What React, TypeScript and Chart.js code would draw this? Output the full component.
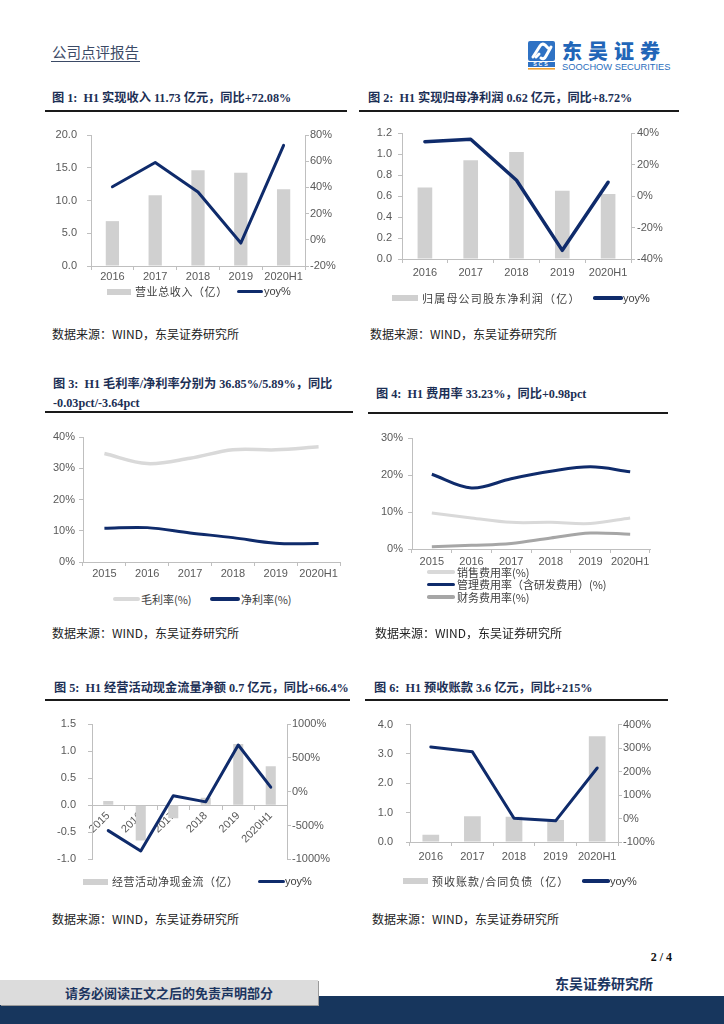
import React, { useEffect, useRef } from 'react';
import { Chart, registerables } from 'chart.js';

Chart.register(...registerables);

// ---------------- DATA ----------------
const c1Years = ['2016', '2017', '2018', '2019', '2020H1'];
const c1Revenue = [6.85, 10.8, 14.6, 14.25, 11.73];
const c1Yoy = [40.5, 59, 36.5, -2.5, 72.08];
const c1LeftTicks = ['0.0', '5.0', '10.0', '15.0', '20.0'];
const c1RightTicks = ['-20%', '0%', '20%', '40%', '60%', '80%'];

const c2Years = ['2016', '2017', '2018', '2019', '2020H1'];
const c2Profit = [0.68, 0.94, 1.02, 0.65, 0.62];
const c2Yoy = [34.5, 36, 10, -34.5, 8.72];
const c2LeftTicks = ['0.0', '0.2', '0.4', '0.6', '0.8', '1.0', '1.2'];
const c2RightTicks = ['-40%', '-20%', '0%', '20%', '40%'];

const c3Years = ['2015', '2016', '2017', '2018', '2019', '2020H1'];
const c3Gross = [34.7, 31.5, 33.2, 35.9, 35.9, 36.85];
const c3Net = [10.8, 11.0, 9.3, 7.8, 6.0, 5.89];
const c3Ticks = ['0%', '10%', '20%', '30%', '40%'];

const c4Years = ['2015', '2016', '2017', '2018', '2019', '2020H1'];
const c4Sales = [9.7, 8.4, 7.2, 7.2, 6.9, 8.4];
const c4Admin = [20.2, 16.5, 19.0, 21.0, 22.2, 20.9];
const c4Finance = [0.6, 1.0, 1.5, 3.0, 4.3, 4.0];
const c4Ticks = ['0%', '10%', '20%', '30%'];

const c5Years = ['2015', '2016', '2017', '2018', '2019', '2020H1'];
const c5Cash = [0.08, -0.65, -0.24, 0.14, 1.13, 0.72];
const c5Yoy = [-575, -875, -60, -150, 690, 66.4];
const c5LeftTicks = ['-1.0', '-0.5', '0.0', '0.5', '1.0', '1.5'];
const c5RightTicks = ['-1000%', '-500%', '0%', '500%', '1000%'];

const c6Years = ['2016', '2017', '2018', '2019', '2020H1'];
const c6Advance = [0.25, 0.88, 0.86, 0.75, 3.6];
const c6Yoy = [305, 284, 1, -10, 215];
const c6LeftTicks = ['0.0', '1.0', '2.0', '3.0', '4.0'];
const c6RightTicks = ['-100%', '0%', '100%', '200%', '300%', '400%'];

const L1Bar = '营业总收入（亿）';
const L2Bar = '归属母公司股东净利润（亿）';
const L3Gross = '毛利率(%)';
const L3Net = '净利率(%)';
const L4Sales = '销售费用率(%)';
const L4Admin = '管理费用率（含研发费用）(%)';
const L4Fin = '财务费用率(%)';
const L5Bar = '经营活动净现金流（亿）';
const L6Bar = '预收账款/合同负债（亿）';
const LYoy = 'yoy%';

// ---------------- STYLE ----------------
const NAVY = '#0f2b6b';
const BAR = '#d0d0d0';
const LIGHT = '#d9d9d9';
const MID = '#a6a6a6';
const AXIS = '#bfbfbf';
const TICK_COLOR = '#595959';
const TITLE_COLOR = '#1c2f55';
const tickFont = { family: '"Liberation Sans", Arial, sans-serif', size: 11 };
const CJK = '"Noto Sans CJK SC", "Noto Sans", sans-serif';
const SERIF_CJK = '"Liberation Serif", "Noto Sans CJK SC", serif';

const fixW = (w: number) => (s: any) => {
  s.width = w;
};
const fixH = (h: number) => (s: any) => {
  s.height = h;
};

function yScale(opts: {
  pos: 'left' | 'right';
  min: number;
  max: number;
  step: number;
  labels: string[];
  width: number;
  pad: number;
}) {
  return {
    position: opts.pos,
    min: opts.min,
    max: opts.max,
    afterFit: fixW(opts.width),
    grid: { display: true, drawOnChartArea: false, drawTicks: true, tickLength: 4, color: AXIS },
    border: { display: true, color: AXIS },
    ticks: {
      stepSize: opts.step,
      padding: opts.pad,
      color: TICK_COLOR,
      font: tickFont,
      callback: (_v: any, i: number) => opts.labels[i],
    },
  };
}

function xScale(height: number, pad: number) {
  return {
    offset: true,
    afterFit: fixH(height),
    grid: { display: true, offset: true, drawOnChartArea: false, drawTicks: true, tickLength: 4, color: AXIS },
    border: { display: true, color: AXIS },
    ticks: { padding: pad, color: TICK_COLOR, font: tickFont, maxRotation: 0, autoSkip: false },
  };
}

const baseOpts = (padding: any) => ({
  animation: false,
  responsive: false,
  devicePixelRatio: 1,
  layout: { padding },
  plugins: { legend: { display: false }, tooltip: { enabled: false } },
});

// ---------------- CHART CONFIGS ----------------
const cfg1 = () => ({
  type: 'bar',
  data: {
    labels: c1Years,
    datasets: [
      { type: 'line', label: LYoy, data: c1Yoy, borderColor: NAVY, borderWidth: 3, pointRadius: 0, yAxisID: 'y1', order: 0, tension: 0, borderJoinStyle: 'round', borderCapStyle: 'round' },
      { type: 'bar', label: L1Bar, data: c1Revenue, backgroundColor: BAR, yAxisID: 'y', order: 1, categoryPercentage: 0.5, barPercentage: 0.62 },
    ],
  },
  options: {
    ...baseOpts({ top: 17, left: 0, right: 0, bottom: 0 }),
    scales: {
      x: xScale(24, 0),
      y: yScale({ pos: 'left', min: 0, max: 20, step: 5, labels: c1LeftTicks, width: 51, pad: 10 }),
      y1: yScale({ pos: 'right', min: -20, max: 80, step: 20, labels: c1RightTicks, width: 45, pad: 1 }),
    },
  },
});

const cfg2 = () => ({
  type: 'bar',
  data: {
    labels: c2Years,
    datasets: [
      { type: 'line', label: LYoy, data: c2Yoy, borderColor: NAVY, borderWidth: 3.5, pointRadius: 0, yAxisID: 'y1', order: 0, tension: 0, borderJoinStyle: 'round', borderCapStyle: 'round' },
      { type: 'bar', label: L2Bar, data: c2Profit, backgroundColor: BAR, yAxisID: 'y', order: 1, categoryPercentage: 0.5, barPercentage: 0.64 },
    ],
  },
  options: {
    ...baseOpts({ top: 18, left: 0, right: 0, bottom: 0 }),
    scales: {
      x: xScale(28, 3),
      y: yScale({ pos: 'left', min: 0, max: 1.2, step: 0.2, labels: c2LeftTicks, width: 44, pad: 6 }),
      y1: yScale({ pos: 'right', min: -40, max: 40, step: 20, labels: c2RightTicks, width: 59, pad: 2 }),
    },
  },
});

const cfg3 = () => ({
  type: 'line',
  data: {
    labels: c3Years,
    datasets: [
      { label: L3Net, data: c3Net, borderColor: NAVY, borderWidth: 3, pointRadius: 0, tension: 0.35, order: 0 },
      { label: L3Gross, data: c3Gross, borderColor: LIGHT, borderWidth: 3.5, pointRadius: 0, tension: 0.35, order: 1 },
    ],
  },
  options: {
    ...baseOpts({ top: 17, left: 0, right: 10, bottom: 0 }),
    scales: {
      x: xScale(23, 1),
      y: yScale({ pos: 'left', min: 0, max: 40, step: 10, labels: c3Ticks, width: 43, pad: 4 }),
    },
  },
});

const cfg4 = () => ({
  type: 'line',
  data: {
    labels: c4Years,
    datasets: [
      { label: L4Admin, data: c4Admin, borderColor: NAVY, borderWidth: 3, pointRadius: 0, tension: 0.35, order: 0 },
      { label: L4Sales, data: c4Sales, borderColor: LIGHT, borderWidth: 3, pointRadius: 0, tension: 0.35, order: 1 },
      { label: L4Fin, data: c4Finance, borderColor: MID, borderWidth: 3, pointRadius: 0, tension: 0.35, order: 2 },
    ],
  },
  options: {
    ...baseOpts({ top: 18, left: 0, right: 20, bottom: 0 }),
    scales: {
      x: xScale(21, 2),
      y: yScale({ pos: 'left', min: 0, max: 30, step: 10, labels: c4Ticks, width: 52, pad: 5 }),
    },
  },
});

const cfg5 = () => ({
  type: 'bar',
  data: {
    labels: c5Years,
    datasets: [
      { type: 'line', label: LYoy, data: c5Yoy, borderColor: NAVY, borderWidth: 3, pointRadius: 0, yAxisID: 'y1', order: 0, tension: 0, borderJoinStyle: 'round', borderCapStyle: 'round' },
      { type: 'bar', label: L5Bar, data: c5Cash, backgroundColor: BAR, yAxisID: 'y', order: 1, categoryPercentage: 0.5, barPercentage: 0.62 },
    ],
  },
  options: {
    ...baseOpts({ top: 19, left: 0, right: 0, bottom: 7 }),
    scales: {
      x: {
        position: { y: 0 },
        offset: true,
        grid: { display: true, offset: true, drawOnChartArea: false, drawTicks: true, tickLength: 4, color: AXIS },
        border: { display: true, color: AXIS },
        ticks: { padding: 0, color: TICK_COLOR, font: tickFont, minRotation: 45, maxRotation: 45, autoSkip: false },
      },
      y: yScale({ pos: 'left', min: -1, max: 1.5, step: 0.5, labels: c5LeftTicks, width: 52, pad: 12 }),
      y1: yScale({ pos: 'right', min: -1000, max: 1000, step: 500, labels: c5RightTicks, width: 63, pad: 1 }),
    },
  },
});

const cfg6 = () => ({
  type: 'bar',
  data: {
    labels: c6Years,
    datasets: [
      { type: 'line', label: LYoy, data: c6Yoy, borderColor: NAVY, borderWidth: 3, pointRadius: 0, yAxisID: 'y1', order: 0, tension: 0, borderJoinStyle: 'round', borderCapStyle: 'round' },
      { type: 'bar', label: L6Bar, data: c6Advance, backgroundColor: BAR, yAxisID: 'y', order: 1, categoryPercentage: 0.6, barPercentage: 0.67 },
    ],
  },
  options: {
    ...baseOpts({ top: 19, left: 0, right: 0, bottom: 0 }),
    scales: {
      x: xScale(26, 4),
      y: yScale({ pos: 'left', min: 0, max: 4, step: 1, labels: c6LeftTicks, width: 50, pad: 13 }),
      y1: yScale({ pos: 'right', min: -100, max: 400, step: 100, labels: c6RightTicks, width: 52, pad: 1 }),
    },
  },
});

// ---------------- COMPONENTS ----------------
function ChartCanvas({ x, y, w, h, make }: { x: number; y: number; w: number; h: number; make: () => any }) {
  const ref = useRef<HTMLCanvasElement>(null);
  useEffect(() => {
    const chart = new Chart(ref.current as HTMLCanvasElement, make());
    return () => chart.destroy();
  }, []);
  return (
    <canvas
      ref={ref}
      width={w}
      height={h}
      style={{ position: 'absolute', left: x, top: y, width: w, height: h }}
    />
  );
}

function T({
  x,
  y,
  size,
  children,
  color = '#222',
  weight = 400,
  family = CJK,
  right,
  spacing = 0,
}: {
  x?: number;
  y: number;
  size: number;
  children: any;
  color?: string;
  weight?: number;
  family?: string;
  right?: number;
  spacing?: number;
}) {
  const lh = Math.round(size * 1.4);
  const style: any = {
    position: 'absolute',
    top: y - lh / 2,
    fontSize: size,
    lineHeight: lh + 'px',
    whiteSpace: 'nowrap',
    color,
    fontWeight: weight,
    fontFamily: family,
    letterSpacing: spacing,
  };
  if (right !== undefined) style.right = 724 - right;
  else style.left = x;
  return <div style={style}>{children}</div>;
}

function Rule({ x1, x2, y }: { x1: number; x2: number; y: number }) {
  return <div style={{ position: 'absolute', left: x1, top: y, width: x2 - x1, height: 2, background: '#1a1a1a' }} />;
}

function Swatch({ x, y, w, h, color }: { x: number; y: number; w: number; h: number; color: string }) {
  return <div style={{ position: 'absolute', left: x, top: y - h / 2, width: w, height: h, background: color, borderRadius: h <= 4 ? h / 2 : 0 }} />;
}

function LegendText({ x, y, children, latin, spacing = 0 }: { x: number; y: number; children: any; latin?: boolean; spacing?: number }) {
  return (
    <T x={x} y={y} size={11} color="#404040" spacing={spacing} family={latin ? '"Liberation Sans", Arial, sans-serif' : CJK}>
      {children}
    </T>
  );
}

function Title({ x, y, children }: { x: number; y: number; children: any }) {
  return (
    <T x={x} y={y} size={12.2} weight={700} color={TITLE_COLOR} family={SERIF_CJK}>
      {children}
    </T>
  );
}

const SOURCE = '数据来源：WIND，东吴证券研究所';

function Logo() {
  return (
    <>
      <svg style={{ position: 'absolute', left: 528, top: 41 }} width={28} height={30} viewBox="0 0 28 30">
        <rect x={0} y={0} width={27} height={20} rx={2} fill="#2f72c4" />
        <path d="M5 16 L12 5 Q14 2 17 4 L20 7" stroke="#fff" strokeWidth={3} fill="none" strokeLinecap="round" />
        <path d="M8 16 L11 13 M13 17 Q16 19 18 15 L23 6" stroke="#fff" strokeWidth={3} fill="none" strokeLinecap="round" />
        <rect x={0} y={21} width={27} height={5} fill="#2f72c4" />
        <text x={13.5} y={25.3} fontSize={5.2} fill="#fff" textAnchor="middle" fontFamily="Liberation Sans" fontWeight={700} letterSpacing={2}>
          SCS
        </text>
        <rect x={0} y={27} width={27} height={1.6} fill="#f0a030" />
      </svg>
      <div
        style={{
          position: 'absolute',
          left: 562,
          top: 38,
          fontSize: 20,
          lineHeight: '26px',
          letterSpacing: 6,
          fontWeight: 900,
          color: '#2266b8',
          fontFamily: CJK,
          whiteSpace: 'nowrap',
        }}
      >
        东吴证券
      </div>
      <div
        style={{
          position: 'absolute',
          left: 562,
          top: 61,
          fontSize: 9.3,
          lineHeight: '12px',
          color: '#2a6ebd',
          fontFamily: '"Liberation Sans", Arial, sans-serif',
          whiteSpace: 'nowrap',
        }}
      >
        SOOCHOW SECURITIES
      </div>
    </>
  );
}

export default function App() {
  return (
    <div
      style={{
        position: 'absolute',
        left: 0,
        top: 0,
        width: 724,
        height: 1024,
        overflow: 'hidden',
        background: '#fff',
      }}
    >
      {/* header */}
      <T x={52} y={52} size={14.5} color="#3b4a66" family={CJK}>
        公司点评报告
      </T>
      <div style={{ position: 'absolute', left: 51, top: 61, width: 89, height: 1, background: '#3b4a66' }} />
      <Logo />

      {/* row 1 */}
      <Title x={52} y={98}>图 1:&nbsp; H1 实现收入 11.73 亿元，同比+72.08%</Title>
      <Rule x1={45} x2={347} y={110} />
      <Title x={368} y={98}>图 2:&nbsp; H1 实现归母净利润 0.62 亿元，同比+8.72%</Title>
      <Rule x1={359} x2={679} y={110} />

      <ChartCanvas x={40} y={118} w={310} h={172} make={cfg1} />
      <Swatch x={107} y={291.5} w={24} h={6} color={BAR} />
      <LegendText x={135} y={291.5} spacing={0.6}>{L1Bar}</LegendText>
      <Swatch x={237} y={291.5} w={26} h={3} color={NAVY} />
      <LegendText x={264} y={291.5} latin>{LYoy}</LegendText>

      <ChartCanvas x={358} y={115} w={332} h={172} make={cfg2} />
      <Swatch x={392} y={298} w={26} h={6} color={BAR} />
      <LegendText x={422} y={298} spacing={1.2}>{L2Bar}</LegendText>
      <Swatch x={593} y={298} w={30} h={3.5} color={NAVY} />
      <LegendText x={623} y={298} latin>{LYoy}</LegendText>

      <T x={52} y={333} size={12} color="#222">{SOURCE}</T>
      <T x={370} y={333} size={12} color="#222">{SOURCE}</T>

      {/* row 2 */}
      <Title x={53} y={384}>图 3:&nbsp; H1 毛利率/净利率分别为 36.85%/5.89%，同比</Title>
      <Title x={53} y={403}>-0.03pct/-3.64pct</Title>
      <Rule x1={45} x2={353} y={411} />
      <Title x={376} y={394}>图 4:&nbsp; H1 费用率 33.23%，同比+0.98pct</Title>
      <Rule x1={368} x2={668} y={412} />

      <ChartCanvas x={40} y={420} w={310} h={165} make={cfg3} />
      <Swatch x={113} y={599} w={27} h={4} color={LIGHT} />
      <LegendText x={141} y={599}>{L3Gross}</LegendText>
      <Swatch x={210} y={599} w={30} h={4} color={NAVY} />
      <LegendText x={241} y={599}>{L3Net}</LegendText>

      <ChartCanvas x={360} y={420} w={310} h={150} make={cfg4} />
      <Swatch x={427} y={572} w={28} h={3.5} color={LIGHT} />
      <LegendText x={457} y={572}>{L4Sales}</LegendText>
      <Swatch x={427} y={584.5} w={28} h={3.5} color={NAVY} />
      <LegendText x={457} y={584.5}>{L4Admin}</LegendText>
      <Swatch x={427} y={597} w={28} h={3.5} color={MID} />
      <LegendText x={457} y={597}>{L4Fin}</LegendText>

      <T x={52} y={632} size={12} color="#222">{SOURCE}</T>
      <T x={375} y={632} size={12} color="#222">{SOURCE}</T>

      {/* row 3 */}
      <Title x={54} y={688}>图 5:&nbsp; H1 经营活动现金流量净额 0.7 亿元，同比+66.4%</Title>
      <Rule x1={45} x2={350} y={699} />
      <Title x={374} y={688}>图 6:&nbsp; H1 预收账款 3.6 亿元，同比+215%</Title>
      <Rule x1={365} x2={668} y={699} />

      <ChartCanvas x={40} y={705} w={310} h={173} make={cfg5} />
      <Swatch x={83} y={881.5} w={25} h={6} color={BAR} />
      <LegendText x={112} y={881.5} spacing={0.5}>{L5Bar}</LegendText>
      <Swatch x={258} y={881.5} w={27} h={3.5} color={NAVY} />
      <LegendText x={285} y={881.5} latin>{LYoy}</LegendText>

      <ChartCanvas x={360} y={705} w={310} h={163} make={cfg6} />
      <Swatch x={403} y={881} w={25} h={6} color={BAR} />
      <LegendText x={432} y={881} spacing={1}>{L6Bar}</LegendText>
      <Swatch x={582} y={881} w={28} h={3.5} color={NAVY} />
      <LegendText x={610} y={881} latin>{LYoy}</LegendText>

      <T x={52} y={918} size={12} color="#222">{SOURCE}</T>
      <T x={372} y={918} size={12} color="#222">{SOURCE}</T>

      {/* footer */}
      <T right={672} y={957} size={12} weight={700} color="#111" family='"Liberation Serif", serif'>
        2 / 4
      </T>
      <div style={{ position: 'absolute', left: 0, top: 996, width: 724, height: 28, background: '#17365d' }} />
      <div
        style={{
          position: 'absolute',
          left: 0,
          top: 980,
          width: 318,
          height: 25,
          background: '#dcdcdc',
          boxShadow: '1px 1px 0 #9a9a9a',
        }}
      />
      <T x={65} y={993} size={13} weight={700} color="#1c3560">
        请务必阅读正文之后的免责声明部分
      </T>
      <T x={555} y={983} size={14} weight={700} color="#1c3560">
        东吴证券研究所
      </T>
    </div>
  );
}
